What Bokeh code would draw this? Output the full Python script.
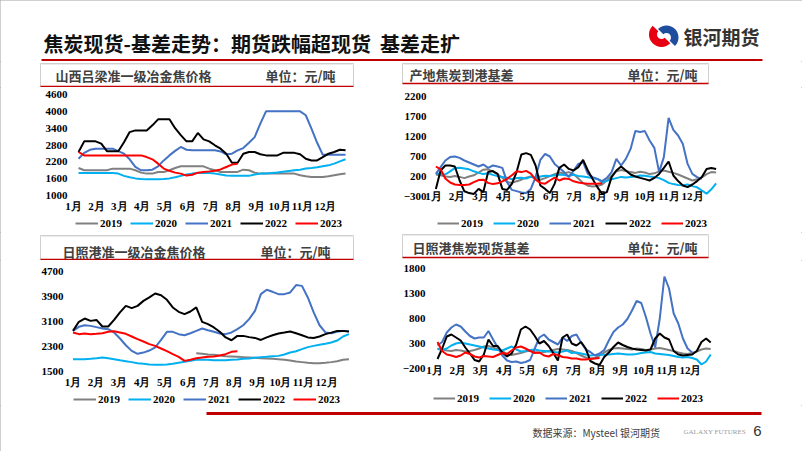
import numpy as np
from bokeh.plotting import figure
from bokeh.models import Range1d, FixedTicker, Legend, LegendItem
from bokeh.layouts import column, row
from bokeh.embed import file_html
from bokeh.resources import INLINE
from bokeh.core.properties import value

YEARS = ["2019", "2020", "2021", "2022", "2023"]
COLORS = ["#808080", "#00B0F0", "#4472C4", "#000000", "#FF0000"]
MONTHS = ["1月", "2月", "3月", "4月", "5月", "6月", "7月", "8月", "9月", "10月", "11月", "12月"]

# ---- chart 1: 山西吕梁准一级冶金焦价格 ----
c1_ticks = [1000, 1600, 2200, 2800, 3400, 4000, 4600]
c1_2019 = [1980, 1900, 1900, 1900, 1900, 1900, 1957, 1957, 1957, 1957, 1900, 1815, 1780, 1780, 1840, 1840,
           1900, 1980, 2040, 2040, 2040, 2040, 2040, 1957, 1900, 1840, 1840, 1840, 1840, 1920, 1900, 1815,
           1780, 1780, 1780, 1780, 1780, 1780, 1780, 1720, 1685, 1660, 1660, 1660, 1685, 1720, 1755, 1780]
c1_2020 = [1800, 1800, 1800, 1800, 1800, 1800, 1800, 1780, 1700, 1650, 1610, 1590, 1580, 1580, 1580, 1590,
           1610, 1650, 1700, 1745, 1780, 1800, 1800, 1800, 1780, 1745, 1710, 1700, 1700, 1700, 1700, 1745,
           1780, 1780, 1800, 1820, 1850, 1875, 1900, 1920, 1960, 1980, 2005, 2040, 2075, 2135, 2215, 2290]
c1_2021 = [2310, 2520, 2630, 2670, 2670, 2670, 2670, 2580, 2490, 2290, 2020, 1900, 1900, 1920, 2040, 2250,
           2430, 2590, 2730, 2630, 2610, 2610, 2610, 2610, 2610, 2570, 2470, 2490, 2610, 2690, 2880, 3080,
           3560, 4000, 4000, 4000, 4000, 4000, 4000, 4000, 3860, 3380, 2880, 2450, 2450, 2450, 2450, 2450]
c1_2022 = [2550, 2930, 2930, 2930, 2850, 2580, 2580, 2580, 2900, 3260, 3320, 3320, 3320, 3500, 3715, 3715,
           3715, 3400, 3150, 2930, 2930, 3230, 3000, 2930, 2790, 2670, 2490, 2170, 2170, 2490, 2550, 2550,
           2470, 2430, 2430, 2430, 2520, 2520, 2520, 2470, 2310, 2250, 2250, 2370, 2490, 2550, 2630, 2610]
c1_2023 = [2550, 2430, 2430, 2430, 2430, 2430, 2430, 2430, 2430, 2430, 2430, 2430, 2370, 2290, 2135, 1960,
           1880, 1815, 1780, 1710, 1740, 1815, 1840, 1860, 1885, 1930, 2015, 2100, 2135]

# ---- chart 2: 产地焦炭到港基差 ----
c2_ticks = [-300, 200, 700, 1200, 1700, 2200]
c2_2019 = [250, 230, 200, 190, 210, 190, 160, 200, 230, 300, 370, 380, 330, 250, 170, 60, 40, 80, 120, 170,
           200, 150, 120, 160, 210, 260, 300, 280, 310, 260, 150, 40, -30, -50, -40, 0, 100, 220, 330, 360,
           340, 310, 290, 320, 300, 260, 280, 330, 350, 320, 290, 250, 200, 150, 100, 130, 180, 260, 310, 300]
c2_2020 = [280, 265, 250, 330, 410, 420, 400, 380, 330, 290, 260, 280, 240, 210, 190, 170, 130, 160, 170, 150,
           190, 175, 200, 220, 210, 230, 250, 235, 220, 245, 215, 200, 180, 160, 140, 60, 90, 130, 160, 190,
           175, 190, 200, 225, 220, 200, 190, 160, 110, 40, 10, -10, -20, 0, -40, -70, -150, -230, -120, 30]
c2_2021 = [265, 435, 600, 685, 700, 665, 600, 550, 500, 450, 500, 415, 475, 450, 415, 58, -135, -165, -200, -215,
           -110, 185, 615, 765, 700, 515, 415, 310, 185, 350, 515, 560, 265, 185, 140, 85, 165, 310, 640, 475,
           640, 890, 1335, 1310, 1335, 1100, 915, 310, 685, 1665, 1365, 1225, 1015, 515, 265, 185, 140]
c2_2022 = [-110, 350, 475, 475, 450, 100, -170, -215, -235, -110, -190, 310, 335, 265, -110, -135, 15, 310, 750, 785,
           740, 475, -25, -110, -215, 15, 415, 500, 390, 350, 435, 615, 350, 140, -65, -235, -190, 185, 350, 450,
           350, 250, 200, 165, 135, 100, 165, 265, 415, 575, 225, 85, -25, -65, 0, 85, 185, 390, 415, 390]
c2_2023 = [450, 380, 150, 50, 0, -10, -10, 0, 60, 110, 120, 40, 10, 30, 80, 140, 230, 330, 310, 340,
           270, 120, 40, 20, 100, 170, 100, 150, 140, 80, 50, 30, 20, 20, 20, 30]

# ---- chart 3: 日照港准一级冶金焦价格 ----
c3_ticks = [1500, 2300, 3100, 3900, 4700]
c3_2019_start = 21
c3_2019 = [2085, 2065, 2045, 2035, 2010, 1990, 1980, 1970, 1960, 1950, 1940, 1925, 1915, 1905, 1895, 1875,
           1850, 1820, 1800, 1780, 1765, 1765, 1780, 1800, 1830, 1875, 1895]
c3_2020 = [1895, 1895, 1895, 1905, 1925, 1950, 1925, 1895, 1860, 1830, 1800, 1765, 1745, 1725, 1715, 1715,
           1725, 1745, 1780, 1810, 1840, 1875, 1875, 1875, 1860, 1860, 1860, 1875, 1885, 1905, 1915, 1940,
           1960, 1970, 1990, 2000, 2045, 2110, 2150, 2215, 2280, 2320, 2355, 2385, 2430, 2490, 2620, 2695]
c3_2021 = [2800, 2930, 2980, 2960, 2920, 2875, 2855, 2750, 2555, 2340, 2160, 2065, 2105, 2170, 2270, 2510,
           2770, 2770, 2695, 2660, 2725, 2800, 2875, 2820, 2770, 2715, 2695, 2750, 2855, 2980, 3175, 3440,
           3975, 4115, 4050, 3975, 3975, 4030, 4265, 4240, 3870, 3390, 2980, 2750, 2725, 2770, 2800, 2780]
c3_2022 = [2800, 3090, 3195, 3120, 3150, 2940, 2940, 3150, 3390, 3600, 3530, 3600, 3760, 3870, 3995, 3940,
           3795, 3550, 3410, 3335, 3420, 3550, 3090, 3015, 2910, 2770, 2590, 2500, 2640, 2640, 2600, 2575,
           2510, 2590, 2660, 2715, 2745, 2780, 2725, 2660, 2590, 2575, 2620, 2695, 2745, 2800, 2800, 2780]
c3_2023 = [2750, 2695, 2715, 2695, 2705, 2725, 2770, 2790, 2750, 2705, 2620, 2535, 2460, 2375, 2320, 2235,
           2150, 2055, 1970, 1840, 1875, 1925, 1950, 1970, 1980, 2010, 2055, 2130, 2150]

# ---- chart 4: 日照港焦炭现货基差 ----
c4_ticks = [-200, 300, 800, 1300, 1800]
c4_2019 = [200, 180, 160, 150, 170, 160, 140, 150, 170, 200, 240, 250, 220, 180, 140, 90, 70, 90, 110, 140,
           160, 130, 110, 130, 150, 170, 190, 180, 170, 150, 110, 60, 20, 0, 10, 60, 120, 170, 200, 210,
           200, 190, 180, 200, 190, 170, 180, 200, 210, 190, 170, 150, 120, 100, 90, 110, 140, 180, 200, 190]
c4_2020 = [190, 170, 200, 260, 300, 320, 300, 280, 260, 240, 220, 200, 180, 170, 160, 200, 240, 180, 140, 150,
           170, 180, 160, 150, 140, 130, 120, 140, 160, 110, 120, 100, 80, 60, 70, 75, 75, 80, 90, 100,
           90, 80, 80, 90, 110, 120, 130, 100, 90, 80, 70, 50, 30, 20, 30, 10, -20, -120, -60, 80]
c4_2021 = [260, 330, 520, 620, 680, 640, 540, 450, 400, 420, 420, 550, 380, 220, 60, -40, -70, -60, -90, -70,
           -30, 200, 420, 480, 380, 330, 280, 420, 350, 450, 480, 320, 180, 130, 60, 100, 170, 360, 530, 620,
           680, 790, 960, 1150, 1110, 830, 500, 220, 800, 1640, 1400, 900, 700, 400, 200, 120]
c4_2022 = [-10, 200, 440, 480, 420, 360, 220, 100, -30, -60, 80, 380, 250, 250, 120, 40, 100, 280, 580, 640,
           580, 450, 300, 350, 250, 110, -40, 420, 480, 300, 260, 330, 200, -50, -100, -130, 30, 120, 230, 320,
           270, 230, 200, 180, 170, 160, 180, 400, 500, 420, 380, 150, 80, 60, 70, 80, 150, 330, 400, 320]
c4_2023 = [330, 150, 80, 60, 30, 60, 120, 90, 40, 20, 50, 40, 30, 70, 110, 90, 160, 220, 240, 200,
           150, 110, 120, 60, 40, 90, 70, 30, 20, 0, 0, -20, -20, -10, 0, 10]

# sample positions (in month units) for each chart
x1 = np.linspace(1.22, 12.88, 48)
x2 = np.linspace(1.10, 13.00, 60)
x3 = np.linspace(1.00, 12.97, 48)
x4 = np.linspace(1.13, 12.87, 60)

CJK = "Noto Sans CJK SC"
SERIF = "Liberation Serif"
RED = "#C00000"


def deco(w, h):
    p = figure(width=w, height=h, x_range=Range1d(0, w), y_range=Range1d(h, 0),
               toolbar_location=None, output_backend="svg", min_border=0,
               x_axis_location=None, y_axis_location=None)
    p.grid.visible = False
    p.outline_line_color = None
    p.background_fill_color = "white"
    p.border_fill_color = "white"
    return p


def txt(p, x, y, s, size, color, bold=True, font=CJK, align="left"):
    p.text(x=[x], y=[y], text=[s], text_font=value(font), text_font_size=size,
           text_font_style="bold" if bold else "normal", text_color=color,
           text_baseline="middle", text_align=align)


def panel_title(w, h, box, red_y, ty, title, tx, ux):
    p = deco(w, h)
    x0, x1, y0 = box
    p.quad(left=[x0], right=[x1], top=[y0], bottom=[red_y], fill_color="white",
           line_color="#D0D0D0", line_width=1)
    p.line(x=[x0 + 1, x1 + 1], y=[y0 + 1, y0 + 1], line_color="#EBEBEB", line_width=1)
    p.line(x=[x0, x1], y=[red_y, red_y], line_color=RED, line_width=1.5)
    txt(p, tx, ty, title, "13px", "#404040")
    txt(p, ux, ty, "单位：元/吨", "13px", "#404040")
    return p


def px_range(v_lo, v_hi, p_lo, p_hi, c_lo, c_hi):
    """linear map: value v_lo at pixel p_lo, v_hi at p_hi -> values at canvas pixels c_lo, c_hi"""
    k = (v_hi - v_lo) / (p_hi - p_lo)
    return v_lo + (c_lo - p_lo) * k, v_lo + (c_hi - p_lo) * k


def chart(w, h, xr, yr, yticks, x, series, starts, ystand, xstand, leg_loc, glyph_w, spacing):
    # the frame fills the whole canvas; axis labels are pulled inside with negative standoffs
    p = figure(width=w, height=h, x_range=Range1d(*xr), y_range=Range1d(*yr),
               toolbar_location=None, output_backend="svg", min_border=0)
    p.outline_line_color = None
    p.grid.visible = False
    p.background_fill_color = "white"
    p.border_fill_color = "white"
    xa = p.xaxis[0]
    ya = p.yaxis[0]
    xa.ticker = FixedTicker(ticks=list(range(1, 13)))
    xa.major_label_overrides = {i: m for i, m in zip(range(1, 13), MONTHS)}
    ya.ticker = FixedTicker(ticks=yticks)
    for ax, st in ((xa, xstand), (ya, ystand)):
        ax.axis_line_color = None
        ax.major_tick_line_color = None
        ax.minor_tick_line_color = None
        ax.major_tick_in = 0
        ax.major_tick_out = 0
        ax.minor_tick_in = 0
        ax.minor_tick_out = 0
        ax.major_label_standoff = st
        ax.major_label_text_font = SERIF
        ax.major_label_text_font_style = "bold"
        ax.major_label_text_font_size = "11px"
        ax.major_label_text_color = "#000000"
    items = []
    for name, col, vals, s in zip(YEARS, COLORS, series, starts):
        xs = x[s:s + len(vals)]
        r = p.line(xs, vals, line_color=col, line_width=2)
        items.append(LegendItem(label=name, renderers=[r]))
    leg = Legend(items=items, orientation="horizontal", location=leg_loc, margin=0, padding=0,
                 spacing=spacing, glyph_width=glyph_w, glyph_height=12, label_height=12,
                 label_standoff=2, border_line_color=None, background_fill_alpha=0,
                 label_text_font=SERIF, label_text_font_style="bold", label_text_font_size="11px",
                 label_text_color="#000000")
    p.add_layout(leg)
    return p


# header (page is drawn from the top-left corner of the window)
hdr = deco(802, 61)
txt(hdr, 43, 43, "焦炭现货-基差走势：期货跌幅超现货\u00a0\u00a0基差走扩", "20px", "#111111")
hdr.line(x=[41, 762], y=[59.5, 59.5], line_color=RED, line_width=2)
hdr.annular_wedge(x=[661], y=[34], inner_radius=4.5, outer_radius=12.5, start_angle=135, end_angle=315,
                  start_angle_units="deg", end_angle_units="deg", fill_color="#E60012", line_color=None)
hdr.annular_wedge(x=[666], y=[37], inner_radius=4.5, outer_radius=12, start_angle=315, end_angle=135,
                  start_angle_units="deg", end_angle_units="deg", fill_color="#1F4E9E", line_color=None)
txt(hdr, 683, 36, "银河期货", "19px", "#333333")

# panel titles
t1 = panel_title(380, 26, (40, 353, 2), 25, 14, "山西吕梁准一级冶金焦价格", 55, 265)
t2 = panel_title(422, 26, (22, 328, 2), 22, 13, "产地焦炭到港基差", 29, 247)
t3 = panel_title(380, 28, (40, 353, 3), 27, 19, "日照港准一级冶金焦价格", 62, 260)
t4 = panel_title(422, 28, (22, 328, 2), 25, 15, "日照港焦炭现货基差", 32, 247)

# charts: canvas-relative pixel positions of the axis extremes
c1 = chart(380, 145, px_range(1, 12, 73, 73 + 11 * 22.9, 0, 380), px_range(1000, 4600, 108, 7, 145, 0),
           c1_ticks, x1, [c1_2019, c1_2020, c1_2021, c1_2022, c1_2023], [0, 0, 0, 0, 0],
           -67, -33, (75, 3), 23, 8)
c2 = chart(422, 145, px_range(1, 12, 53, 53 + 11 * 23.55, 0, 422), px_range(-300, 2200, 109, 9, 145, 0),
           c2_ticks, x2, [c2_2019, c2_2020, c2_2021, c2_2022, c2_2023], [0, 0, 0, 0, 0],
           -46, -43, (57, 3), 22, 10)
c3 = chart(380, 145, px_range(1, 12, 72.5, 72.5 + 11 * 23.05, 0, 380), px_range(1500, 4700, 111, 11, 145, 0),
           c3_ticks, x3, [c3_2019, c3_2020, c3_2021, c3_2022, c3_2023], [c3_2019_start, 0, 0, 0, 0],
           -63, -30, (73, 0), 23, 8)
c4 = chart(422, 145, px_range(1, 12, 54, 54 + 11 * 23.27, 0, 422), px_range(-200, 1800, 108, 8, 145, 0),
           c4_ticks, x4, [c4_2019, c4_2020, c4_2021, c4_2022, c4_2023], [0, 0, 0, 0, 0],
           -45, -42, (53, 1.5), 22, 10)

# footer
ftr = deco(802, 46)
ftr.line(x=[206, 761], y=[8, 8], line_color=RED, line_width=3)
txt(ftr, 532, 27, "数据来源：Mysteel 银河期货", "10px", "#404040", bold=False)
txt(ftr, 683, 26, "GALAXY FUTURES", "7px", "#999999", bold=False, font="Liberation Serif")
txt(ftr, 757, 25, "6", "15px", "#333333", bold=False, font="Liberation Sans", align="center")

layout = column(hdr, row(column(t1, c1, t3, c3), column(t2, c2, t4, c4)), ftr,
                styles={"outline": "1px solid #A0A0A0", "outline-offset": "-1px"})

with open("out.html", "w") as f:
    f.write(file_html(layout, INLINE))
